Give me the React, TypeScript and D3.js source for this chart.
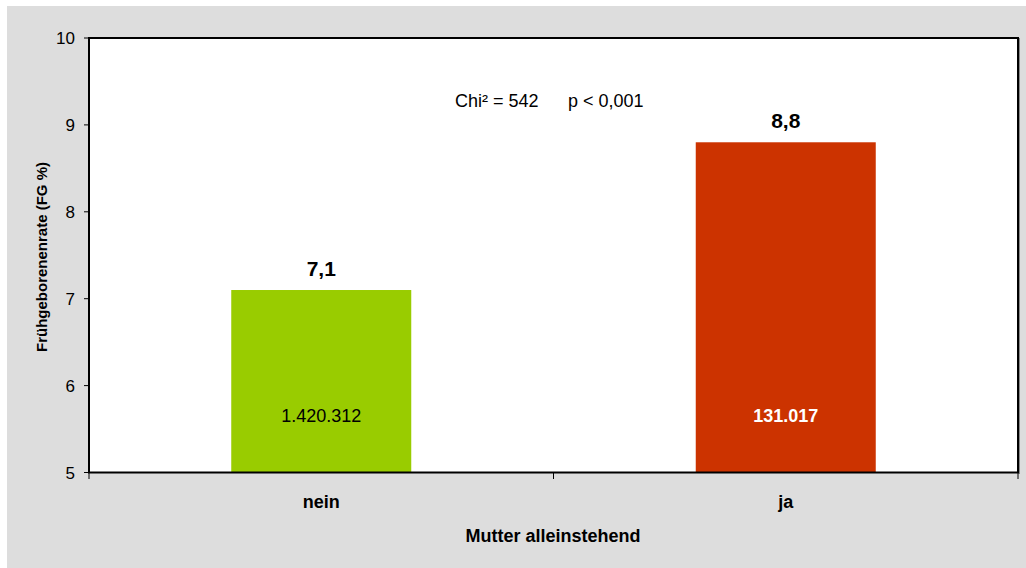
import React from "react";
import * as d3 from "d3";

const categories = ["nein", "ja"];
const rates = [7.1, 8.8];
const rateLabels = ["7,1", "8,8"];
const counts = ["1.420.312", "131.017"];
const barColors = ["#99CC00", "#CC3300"];
const countColors = ["#000000", "#FFFFFF"];
const countWeights = ["normal", "bold"];
const yTicks = [5, 6, 7, 8, 9, 10];
const yTitle = "Frühgeborenenrate (FG %)";
const xTitle = "Mutter alleinstehend";
const statLeft = "Chi² = 542";
const statRight = "p < 0,001";

const W = 1026;
const H = 568;
const plot = { left: 89, right: 1018, top: 38, bottom: 472.5 };
const FONT = "'Liberation Sans', Arial, sans-serif";

export default function App() {
  const x = d3.scaleBand<string>().domain(categories).range([plot.left, plot.right]).paddingInner(0).paddingOuter(0);
  const y = d3.scaleLinear().domain([5, 10]).range([plot.bottom, plot.top]);
  const bw = 180;
  const xTickPos = [plot.left, ...categories.map((c) => (x(c) as number) + x.bandwidth())];

  return (
    <svg width={W} height={H} style={{ position: "absolute", left: 0, top: 0, display: "block" }} fontFamily={FONT}>
      <rect x={0} y={0} width={W} height={H} fill="#ffffff" />
      <rect x={7} y={6} width={W - 7} height={H - 6} fill="#DDDDDD" />
      <rect x={plot.left} y={plot.top} width={plot.right - plot.left} height={plot.bottom - plot.top} fill="#ffffff" />

      {categories.map((c, i) => {
        const cx = (x(c) as number) + x.bandwidth() / 2;
        return (
          <g key={c}>
            <rect x={cx - bw / 2} y={y(rates[i])} width={bw} height={y(5) - y(rates[i])} fill={barColors[i]} />
            <text x={cx} y={y(rates[i]) - 14} textAnchor="middle" fontSize={21} fontWeight="bold" fill="#000">
              {rateLabels[i]}
            </text>
            <text x={cx} y={421.5} textAnchor="middle" fontSize={18} fontWeight={countWeights[i]} fill={countColors[i]}>
              {counts[i]}
            </text>
            <text x={cx} y={508} textAnchor="middle" fontSize={18} fontWeight="bold" fill="#000">
              {c}
            </text>
          </g>
        );
      })}

      {/* frame */}
      <line x1={plot.right + 1.5} y1={plot.top} x2={plot.right + 1.5} y2={plot.bottom + 1.5} stroke="#888" strokeWidth={1} />
      <rect x={plot.left} y={plot.top} width={plot.right - plot.left} height={plot.bottom - plot.top} fill="none" stroke="#000" strokeWidth={2} />

      {/* y ticks */}
      {yTicks.map((t) => (
        <g key={t}>
          <line x1={plot.left - 5} x2={plot.left} y1={y(t)} y2={y(t)} stroke="#000" strokeWidth={1} />
          <text x={75} y={y(t) + 6} textAnchor="end" fontSize={17} fill="#000">
            {t}
          </text>
        </g>
      ))}
      {/* x ticks */}
      {xTickPos.map((px, i) => (
        <line key={i} x1={px} x2={px} y1={plot.bottom} y2={plot.bottom + 6.5} stroke="#000" strokeWidth={1} />
      ))}

      <text x={455} y={106.5} fontSize={18} fill="#000">{statLeft}</text>
      <text x={568} y={106.5} fontSize={18} fill="#000">{statRight}</text>

      <text x={553} y={542} textAnchor="middle" fontSize={18} fontWeight="bold" fill="#000">{xTitle}</text>
      <text transform={`translate(46.5,257) rotate(-90)`} textAnchor="middle" fontSize={15} fontWeight="bold" fill="#000">
        {yTitle}
      </text>
    </svg>
  );
}
